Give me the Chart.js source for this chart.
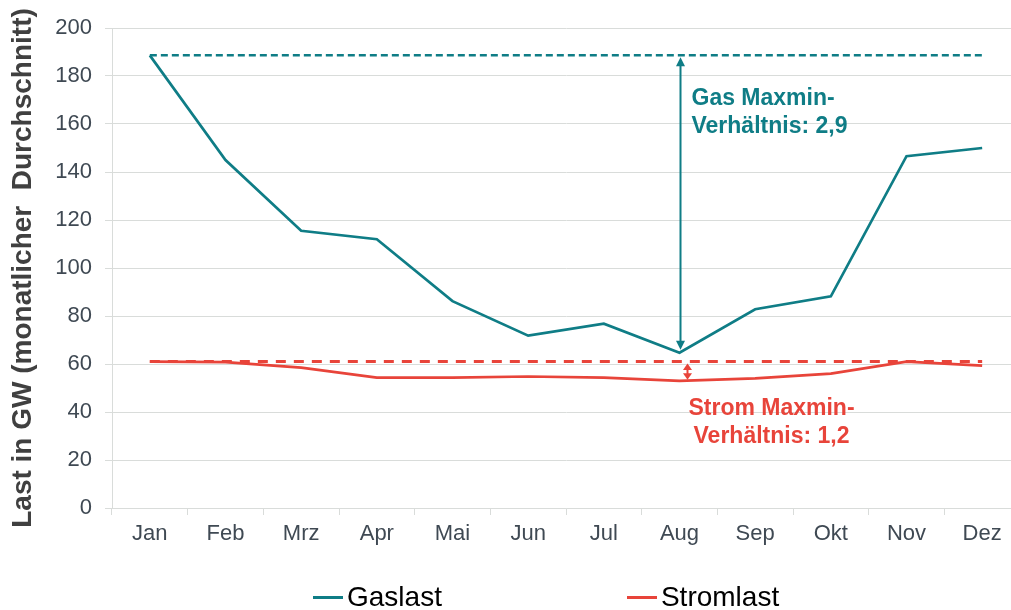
<!DOCTYPE html>
<html>
<head>
<meta charset="utf-8">
<script src="https://cdn.jsdelivr.net/npm/chart.js@4.4.1/dist/chart.umd.min.js"></script>
<style>
  html, body { margin: 0; padding: 0; background: #fff; overflow: hidden; }
  #wrap { position: relative; width: 1020px; height: 610px; }
  #legend { position: absolute; left: 313px; top: 583px; display: flex; align-items: center;
            font-family: "Liberation Sans", Arial, sans-serif; font-size: 28px; line-height: 28px; color: #000; }
  .item { display: flex; align-items: center; }
  .item + .item { margin-left: 185px; }
  .swatch { width: 30px; height: 3px; margin-right: 4px; }
</style>
</head>
<body>
<div id="wrap">
  <canvas id="myChart"></canvas>
  <div id="legend"></div>
</div>
<script>
// Data
const months = ["Jan", "Feb", "Mrz", "Apr", "Mai", "Jun", "Jul", "Aug", "Sep", "Okt", "Nov", "Dez"];
const gasLoad = [188.6, 145, 115.5, 112, 86.2, 71.8, 76.8, 64.7, 82.8, 88.2, 146.6, 150];
const powerLoad = [61, 60.8, 58.5, 54.3, 54.3, 54.8, 54.3, 53, 54, 56, 61, 59.3];
const seriesNames = ["Gaslast", "Stromlast"];
const yMin = 0, yMax = 200, yStep = 20;
const gasNote = ["Gas Maxmin-", "Verhältnis: 2,9"];
const powerNote = ["Strom Maxmin-", "Verhältnis: 1,2"];

const TEAL = "#0f7d86";
const RED = "#e8443a";
const FONT = "'Liberation Sans', Arial, sans-serif";

const gasMax = Math.max(...gasLoad);
const powerMax = Math.max(...powerLoad);
const gasMaxLine = months.map(() => gasMax);
const powerMaxLine = months.map(() => powerMax);
const lowMonth = months.indexOf("Aug");

function arrow(ctx, x, y1, y2, color, head, half) {
  ctx.save();
  ctx.strokeStyle = color;
  ctx.fillStyle = color;
  ctx.lineWidth = 2;
  ctx.beginPath();
  ctx.moveTo(x, y1 + head - 1);
  ctx.lineTo(x, y2 - head + 1);
  ctx.stroke();
  // heads
  ctx.beginPath();
  ctx.moveTo(x, y1);
  ctx.lineTo(x - half, y1 + head);
  ctx.lineTo(x + half, y1 + head);
  ctx.closePath();
  ctx.fill();
  ctx.beginPath();
  ctx.moveTo(x, y2);
  ctx.lineTo(x - half, y2 - head);
  ctx.lineTo(x + half, y2 - head);
  ctx.closePath();
  ctx.fill();
  ctx.restore();
}

// Arrows and notes for the max/min ratio
const notesPlugin = {
  id: "notes",
  afterDatasetsDraw(chart) {
    const { ctx, scales: { x, y } } = chart;
    const xa = x.getPixelForValue(lowMonth);
    arrow(ctx, xa + 1, y.getPixelForValue(gasMax) + 2, y.getPixelForValue(gasLoad[lowMonth]) - 3, TEAL, 9, 4.5);
    arrow(ctx, xa + 8, y.getPixelForValue(powerMax) + 2, y.getPixelForValue(powerLoad[lowMonth]) - 1, RED, 6.5, 4.5);

    ctx.save();
    ctx.font = "bold 23px " + FONT;
    ctx.textBaseline = "middle";
    ctx.fillStyle = TEAL;
    ctx.textAlign = "left";
    ctx.fillText(gasNote[0], xa + 12, y.getPixelForValue(170.5));
    ctx.fillText(gasNote[1], xa + 12, y.getPixelForValue(158.9));
    ctx.fillStyle = RED;
    ctx.textAlign = "center";
    ctx.fillText(powerNote[0], xa + 92, y.getPixelForValue(41.5));
    ctx.fillText(powerNote[1], xa + 92, y.getPixelForValue(29.9));
    ctx.restore();
  }
};

function renderChart() {
  const ctx = document.getElementById("myChart").getContext("2d");
  const chart = new Chart(ctx, {
    type: "line",
    data: {
      labels: months,
      datasets: [
        { label: seriesNames[0], data: gasLoad, borderColor: TEAL, borderWidth: 2.7, pointRadius: 0, tension: 0 },
        { label: seriesNames[1], data: powerLoad, borderColor: RED, borderWidth: 2.7, pointRadius: 0, tension: 0 },
        { label: "gasMax", data: gasMaxLine, borderColor: TEAL, borderWidth: 2.5, borderDash: [7, 4], pointRadius: 0 },
        { label: "powerMax", data: powerMaxLine, borderColor: RED, borderWidth: 3, borderDash: [10, 8], pointRadius: 0 },
      ],
    },
    options: {
      responsive: true,
      maintainAspectRatio: false,
      animation: false,
      layout: { padding: { top: 28, bottom: 62, left: 0, right: 0 } },
      plugins: { legend: { display: false }, tooltip: { enabled: false } },
      scales: {
        x: {
          offset: true,
          grid: { offset: true, drawOnChartArea: false, drawTicks: true, tickLength: 7, color: "#d9dcda" },
          border: { color: "#d9dcda" },
          ticks: { color: "#3f4953", font: { family: FONT, size: 22 }, padding: 6, maxRotation: 0 },
          afterFit: (s) => { s.height = 40; },
        },
        y: {
          min: yMin,
          max: yMax,
          ticks: { stepSize: yStep, color: "#3f4953", font: { family: FONT, size: 22 }, padding: 13 },
          grid: { color: "#d9dcda", tickLength: 7 },
          border: { color: "#d9dcda" },
          title: {
            display: true,
            text: "Last in GW (monatlicher  Durchschnitt)",
            color: "#404040",
            font: { family: FONT, size: 28, weight: "bold" },
            padding: { top: 6, bottom: 0 },
          },
          afterFit: (s) => { s.width = 112; },
        },
      },
    },
    plugins: [notesPlugin],
  });

  // legend below the chart, only for the two load series
  const legend = document.getElementById("legend");
  chart.data.datasets.slice(0, 2).forEach((ds) => {
    const item = document.createElement("div");
    item.className = "item";
    item.innerHTML = '<span class="swatch" style="background:' + ds.borderColor + '"></span><span>' + ds.label + "</span>";
    legend.appendChild(item);
  });
}

document.addEventListener("DOMContentLoaded", () => {
  renderChart();
});
</script>
</body>
</html>
